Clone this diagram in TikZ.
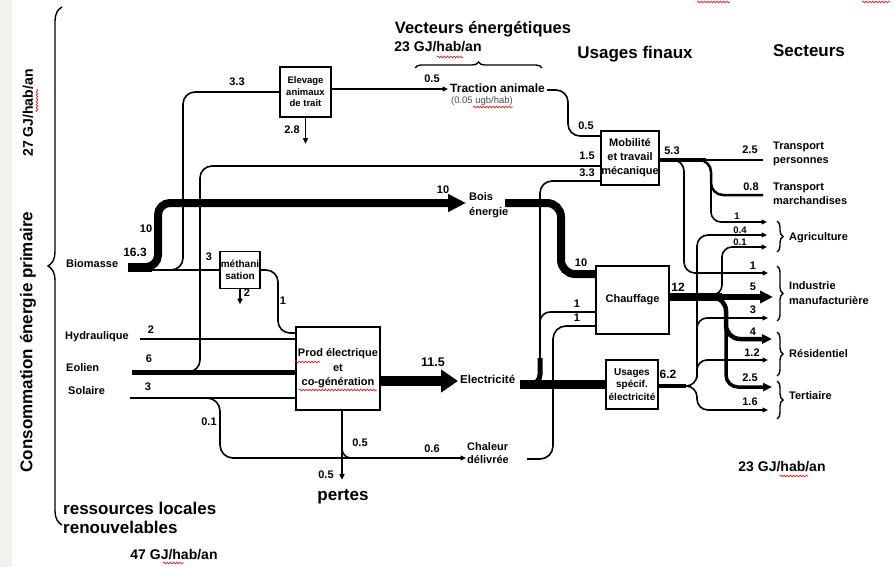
\documentclass[tikz,border=0pt]{standalone}
\usepackage{fontspec}
\setmainfont{Liberation Sans}
\usetikzlibrary{arrows.meta,decorations.pathreplacing,decorations.pathmorphing}
\definecolor{strip}{RGB}{242,241,236}
\definecolor{squigred}{RGB}{220,40,40}
\begin{document}
\begin{tikzpicture}[x=1pt,y=-1pt,
  every node/.style={font=\bfseries\fontsize{11}{12}\selectfont, inner sep=0pt},
  lbl/.style={font=\bfseries\fontsize{11}{12}\selectfont},
  slbl/.style={font=\bfseries\fontsize{9.5}{10}\selectfont},
  big/.style={font=\bfseries\fontsize{17}{19}\selectfont},
  mid/.style={font=\bfseries\fontsize{14}{16}\selectfont},
  box/.style={draw, fill=white, line width=1.4pt, align=center, inner sep=0pt},
  flow/.style={line width=1.6pt, rounded corners=11pt},
  arr/.style={-{Triangle[length=5.5pt,width=5pt]}},
  brc/.style={decorate, decoration={brace, amplitude=#1}, line width=1.4pt},
  squig/.style={squigred, line width=0.7pt, decorate, decoration={snake, amplitude=0.9pt, segment length=3.2pt}}
]
\useasboundingbox (0,0) rectangle (894,567);
\fill[strip] (0,0) rectangle (12,567);

% ---------- boxes ----------
\node[box, minimum width=51pt, minimum height=50pt, font=\bfseries\fontsize{9.5}{11.5}\selectfont] (elev) at (305.5,92) {Elevage\\animaux\\de trait};
\node[box, minimum width=40pt, minimum height=37pt, font=\bfseries\fontsize{10}{12}\selectfont] (meth) at (240,270) {méthani\\sation};
\node[box, minimum width=84pt, minimum height=83pt, font=\bfseries\fontsize{11}{14.5}\selectfont] (prod) at (338,368.5) {Prod électrique\\et\\co-génération};
\node[box, minimum width=58pt, minimum height=54pt, font=\bfseries\fontsize{11}{14}\selectfont] (mob) at (630,158) {Mobilité\\et travail\\mécanique};
\node[box, minimum width=73pt, minimum height=68pt] (chauf) at (632.5,300) {Chauffage};
\node[box, minimum width=52pt, minimum height=49pt, font=\bfseries\fontsize{10}{12.5}\selectfont] (usp) at (632,384.5) {Usages\\spécif.\\électricité};

% ---------- text nodes ----------
\node[big, rotate=90] (cons) at (28,342) {Consommation énergie primaire};
\node[mid, rotate=90] (g27) at (28,113) {27 GJ/hab/an};
\node[big, anchor=west] (res1) at (63,508) {ressources locales};
\node[big, anchor=west] (res2) at (63,527) {renouvelables};
\node[mid] (g47) at (174,555) {47 GJ/hab/an};

\node[anchor=west] (bio) at (66,264) {Biomasse};
\node[anchor=west] (hyd) at (65,337) {Hydraulique};
\node[anchor=west] (eol) at (66,368) {Eolien};
\node[anchor=west] (sol) at (68,391) {Solaire};

\node[font=\bfseries\fontsize{16.5}{18}\selectfont, anchor=base] (vect) at (483,34) {Vecteurs énergétiques};
\node[mid, anchor=base] (g23a) at (438,52) {23 GJ/hab/an};
\node[big, anchor=base] (usf) at (635,59) {Usages finaux};
\node[big, anchor=base] (sect) at (809,57) {Secteurs};
\node[mid] (g23b) at (782,467) {23 GJ/hab/an};

\node[anchor=west, font=\bfseries\fontsize{12}{14}\selectfont] (trac) at (450,88) {Traction animale};
\node[font=\fontsize{9.5}{11}\selectfont, text=black!70] (ugb) at (482,101) {(0.05 ugb/hab)};
\node[anchor=west, align=left, font=\bfseries\fontsize{11}{15}\selectfont] (bois) at (469,205) {Bois\\énergie};
\node[anchor=west, font=\bfseries\fontsize{11.5}{13}\selectfont] (elec) at (460,379) {Electricité};
\node[anchor=west, align=left, font=\bfseries\fontsize{11}{13}\selectfont] (chal) at (467,453) {Chaleur\\délivrée};
\node[big] (pertes) at (343,497) {pertes};

\node[anchor=west, align=left, font=\bfseries\fontsize{11}{13.5}\selectfont] (tp) at (773,154) {Transport\\personnes};
\node[anchor=west, align=left, font=\bfseries\fontsize{11}{13.5}\selectfont] (tm) at (773,194) {Transport\\marchandises};
\node[anchor=west] (agri) at (789,238) {Agriculture};
\node[anchor=west, align=left, font=\bfseries\fontsize{11}{15}\selectfont] (ind) at (789,293) {Industrie\\manufacturière};
\node[anchor=west] (resi) at (789,354) {Résidentiel};
\node[anchor=west] (tert) at (789,396) {Tertiaire};

% ---------- coordinates (free ends) ----------
\coordinate (bioS) at (128,267);
\coordinate (boisT) at (466,203);
\coordinate (boisO) at (505,203);
\coordinate (hydS) at (140,339);
\coordinate (eolS) at (132,372);
\coordinate (solS) at (130,398);
\coordinate (tracI) at (448,89);
\coordinate (tracO) at (547,90);
\coordinate (elecT) at (458,381);
\coordinate (elecO) at (520,384.5);
\coordinate (chalT) at (466,458);
\coordinate (chalO) at (527,459);
\coordinate (tpI) at (763,160);
\coordinate (tmI) at (763,195);
\coordinate (agT1) at (767,222);
\coordinate (agT2) at (767,235);
\coordinate (agT3) at (767,247);
\coordinate (indT1) at (768,273);
\coordinate (indT5) at (773,297);
\coordinate (indT3) at (768,318);
\coordinate (resT4) at (772,339);
\coordinate (resT12) at (768,360);
\coordinate (teT25) at (772,387);
\coordinate (teT16) at (768,410);

% ---------- flows: sources ----------
\draw[line width=9pt] (bioS) -- ++(24,0);
\draw[line width=8pt, rounded corners=12pt, -{Triangle[length=18pt,width=17pt]}] (bioS) -- (158,267) -- (158,203) -- (boisT);
\draw[flow, rounded corners=12pt] (165,270) -- (183,270) -- (183,92) -- (elev.west);
\draw[flow] (150,270) -- (meth.west);
\draw[flow, arr] (meth.south) -- ++(0,15);
\draw[flow, rounded corners=12pt] (meth.east) -- (278,270) -- (278,333) -- ([yshift=35.5pt]prod.west);
\draw[flow] (hydS) -- ([yshift=29.5pt]prod.west);
\draw[line width=5pt] (eolS) -- ([yshift=-3.5pt]prod.west);
\draw[flow] (solS) -- ([yshift=-29.5pt]prod.west);
\draw[flow, rounded corners=12pt] (186,372) -- (200,372) -- (200,166) -- ([yshift=-8pt]mob.west);
\draw[flow, arr, rounded corners=13pt] (205,398) -- (220,398) -- (220,458) -- (chalT);

% elevage
\draw[flow, arr] ([yshift=3pt]elev.east) -- (tracI);
\draw[flow, arr] (elev.south) -- ++(0,26);
\draw[flow, rounded corners=12pt] (tracO) -- (568,90) -- (568,136) -- ([yshift=22pt]mob.west);

% prod
\draw[flow, arr] ([xshift=4pt]prod.south) -- ++(0,69);
\draw[flow, rounded corners=9pt] (342,440) -- (342,458) -- (362,458);
\draw[line width=10pt, -{Triangle[length=17pt,width=22pt]}] ([yshift=-12.5pt]prod.east) -- (elecT);

% electricite
\draw[line width=9pt] (elecO) -- (usp.west);
\draw[flow, rounded corners=12pt] (540,362) -- (540,181) -- ([yshift=-23pt]mob.west);
\draw[flow, rounded corners=10pt] (540,362) -- (540,312) -- ([yshift=-12pt]chauf.west);
\draw[line width=5pt, rounded corners=10pt] (522,384.5) -- (540,384.5) -- (540,358);

% chaleur
\draw[flow, rounded corners=13pt] (chalO) -- (553,459) -- (553,326) -- ([yshift=-26pt]chauf.west);

% bois
\draw[line width=8pt, rounded corners=14pt] (boisO) -- (561,203) -- (561,274) -- ([yshift=26pt]chauf.west);

% ---------- mobilite outputs ----------
\draw[line width=4.5pt] ([yshift=-2pt]mob.east) -- (706,160);
\draw[flow] (700,160) -- (tpI);
\draw[flow, arr, rounded corners=11pt] (672,160) -- (684,160) -- (684,273) -- (indT1);
\draw[line width=2.5pt, rounded corners=12pt] (694,160) -- (711,160) -- (711,195) -- (tmI);
\draw[flow, arr, rounded corners=10pt] (711,182) -- (711,222) -- (agT1);

% ---------- chauffage outputs ----------
\draw[line width=8pt] ([yshift=3pt]chauf.east) -- (722,297);
\draw[line width=6pt, -{Triangle[length=13pt,width=12pt]}] (715,297) -- (indT5);
\draw[flow, arr, rounded corners=10pt] (708,295) -- (722,295) -- (722,247) -- (agT3);
\draw[line width=4.5pt, rounded corners=14pt, -{Triangle[length=10pt,width=9pt]}] (700,297) -- (726,297) -- (726,339) -- (resT4);
\draw[line width=3.5pt, rounded corners=12pt, -{Triangle[length=9pt,width=8pt]}] (726,318) -- (726,387) -- (teT25);

% ---------- usages specifiques outputs ----------
\draw[line width=4pt] ([yshift=-1.5pt]usp.east) -- (686,386);
\draw[flow, arr, rounded corners=11pt] (680,386) -- (697,386) -- (697,235) -- (agT2);
\draw[flow, arr, rounded corners=10pt] (697,340) -- (697,318) -- (indT3);
\draw[flow, arr, rounded corners=10pt] (697,378) -- (697,360) -- (resT12);
\draw[flow, arr, rounded corners=11pt] (680,386) -- (697,386) -- (697,410) -- (teT16);

% ---------- braces ----------
\draw[brc=14pt] (62,525) -- (62,7);
\draw[brc=6pt] (415,68) -- (542,68);
\draw[brc=6pt] (777,221) -- (777,252);
\draw[brc=6pt] (777,266) -- (777,321);
\draw[brc=6pt] (777,332) -- (777,376);
\draw[brc=6pt] (777,381) -- (777,419);

% ---------- value labels ----------
\node[lbl] (n33a) at (237,82) {3.3};
\node[lbl] (n05a) at (432,79) {0.5};
\node[lbl] (n28) at (292,130) {2.8};
\node[lbl] (n05b) at (586,126) {0.5};
\node[lbl] (n15) at (587,156) {1.5};
\node[lbl] (n33b) at (587,173) {3.3};
\node[lbl] (n53) at (672,151) {5.3};
\node[lbl] (n25a) at (750,150) {2.5};
\node[lbl] (n08) at (751,187) {0.8};
\node[slbl] (n1ag) at (737,216) {1};
\node[slbl] (n04) at (740,230) {0.4};
\node[slbl] (n01ag) at (740,242) {0.1};
\node[lbl] (n1in) at (753,266) {1};
\node[lbl] (n5) at (753,287) {5};
\node[lbl] (n3in) at (753,310) {3};
\node[lbl] (n4) at (753,332) {4};
\node[lbl] (n12r) at (752,353) {1.2};
\node[lbl] (n25t) at (750,378) {2.5};
\node[lbl] (n16) at (750,402) {1.6};
\node[font=\bfseries\fontsize{12}{14}\selectfont] (n12) at (678,287) {12};
\node[font=\bfseries\fontsize{12}{14}\selectfont] (n62) at (668,374) {6.2};
\node[lbl] (n10c) at (581,263) {10};
\node[lbl] (n1c1) at (577,304) {1};
\node[lbl] (n1c2) at (577,318) {1};
\node[lbl] (n10b) at (443,190) {10};
\node[font=\bfseries\fontsize{12.5}{14}\selectfont] (n115) at (433,362) {11.5};
\node[lbl] (n06) at (432,449) {0.6};
\node[lbl] (n05r) at (360,443) {0.5};
\node[lbl] (n05l) at (326,475) {0.5};
\node[lbl] (n01) at (209,422) {0.1};
\node[lbl] (n3s) at (148,387) {3};
\node[lbl] (n6) at (149,359) {6};
\node[lbl] (n2h) at (151,330) {2};
\node[font=\bfseries\fontsize{12}{14}\selectfont] (n163) at (135,252) {16.3};
\node[lbl] (n10) at (146,229) {10};
\node[lbl] (n3m) at (209,257) {3};
\node[lbl] (n2m) at (247,293) {2};
\node[lbl] (n1m) at (283,301) {1};

% ---------- spell-check squiggles ----------
\draw[squig] (37,112) -- (37,89);
\draw[squig] (437,57) -- (463,57);
\draw[squig] (473,107) -- (513,107);
\draw[squig] (295,362) -- (320,362);
\draw[squig] (299,390) -- (377,390);
\draw[squig] (163,563) -- (184,563);
\draw[squig] (780,476) -- (808,476);
\draw[squig] (697,2) -- (730,2);
\draw[squig] (862,2) -- (890,2);
\end{tikzpicture}
\end{document}
